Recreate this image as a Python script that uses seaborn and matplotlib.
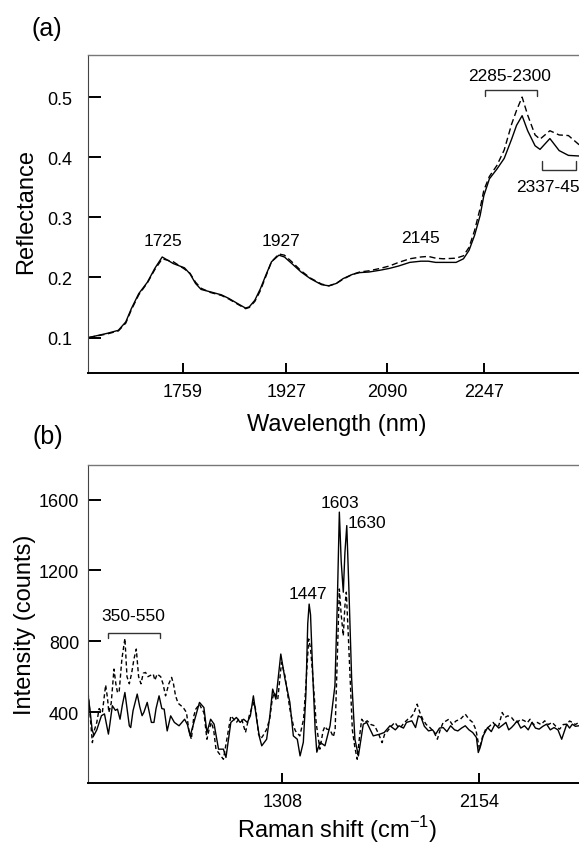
"""Two-panel spectra figure: NIR reflectance (a) and Raman intensity (b)."""

import matplotlib
matplotlib.use("Agg")
import matplotlib.pyplot as plt
import pandas as pd
import seaborn as sns

# ---------------------------------------------------------------- data (a)
nir_wavelength = [
    1607, 1637, 1655, 1667, 1676, 1688, 1702, 1714, 1726, 1744,
    1762, 1771, 1780, 1789, 1804, 1822, 1834, 1849, 1861, 1867,
    1876, 1885, 1894, 1903, 1915, 1924, 1936, 1951, 1966, 1984,
    1996, 2008, 2019, 2034, 2046, 2061, 2079, 2094, 2109, 2127,
    2145, 2157, 2169, 2181, 2202, 2214, 2223, 2232, 2241, 2247,
    2256, 2268, 2280, 2292, 2300, 2309, 2318, 2330, 2338, 2354,
    2369, 2384, 2401, 2412,
]
nir_solid = [
    0.100, 0.107, 0.112, 0.126, 0.148, 0.173, 0.192, 0.215, 0.234, 0.223,
    0.216, 0.206, 0.190, 0.180, 0.176, 0.171, 0.165, 0.156, 0.149, 0.151,
    0.162, 0.181, 0.204, 0.226, 0.237, 0.234, 0.223, 0.209, 0.198, 0.188,
    0.186, 0.190, 0.198, 0.205, 0.208, 0.209, 0.212, 0.215, 0.219, 0.225,
    0.227, 0.227, 0.225, 0.225, 0.225, 0.231, 0.245, 0.270, 0.303, 0.336,
    0.364, 0.380, 0.398, 0.430, 0.453, 0.469, 0.444, 0.419, 0.413, 0.431,
    0.411, 0.403, 0.402, 0.402,
]
nir_dashed = [
    0.100, 0.106, 0.111, 0.124, 0.146, 0.171, 0.191, 0.213, 0.231, 0.226,
    0.214, 0.207, 0.192, 0.182, 0.175, 0.170, 0.164, 0.155, 0.148, 0.150,
    0.160, 0.178, 0.202, 0.226, 0.239, 0.237, 0.226, 0.211, 0.199, 0.189,
    0.186, 0.190, 0.197, 0.205, 0.209, 0.211, 0.215, 0.219, 0.225, 0.231,
    0.234, 0.235, 0.232, 0.231, 0.232, 0.236, 0.250, 0.278, 0.315, 0.345,
    0.368, 0.386, 0.412, 0.455, 0.478, 0.500, 0.470, 0.437, 0.430, 0.444,
    0.437, 0.436, 0.421, 0.418,
]
nir_xticks = [1759, 1927, 2090, 2247]
nir_yticks = [0.1, 0.2, 0.3, 0.4, 0.5]

# ---------------------------------------------------------------- data (b)
raman_shift_solid = [
    470, 480, 490, 498, 510, 530, 543, 560, 566, 577,
    590, 599, 610, 620, 631, 642, 650, 656, 666, 684,
    695, 705, 713, 727, 745, 756, 765, 778, 790, 800,
    813, 828, 844, 864, 888, 900, 912, 928, 952, 971,
    984, 1000, 1015, 1034, 1055, 1066, 1087, 1111, 1127, 1142,
    1158, 1171, 1184, 1198, 1210, 1220, 1241, 1255, 1267, 1281,
    1302, 1320, 1341, 1356, 1373, 1385, 1399, 1410, 1418, 1424,
    1430, 1440, 1450, 1457, 1471, 1492, 1514, 1535, 1545, 1554,
    1562, 1571, 1578, 1586, 1595, 1607, 1621, 1636, 1657, 1672,
    1700, 1729, 1747, 1772, 1795, 1811, 1830, 1843, 1866, 1882,
    1894, 1906, 1920, 1938, 1955, 1969, 1985, 2001, 2017, 2033,
    2050, 2064, 2080, 2096, 2112, 2128, 2144, 2152, 2160, 2173,
    2192, 2208, 2224, 2240, 2260, 2271, 2283, 2295, 2307, 2319,
    2335, 2351, 2367, 2383, 2398, 2414, 2430, 2446, 2462, 2478,
    2495, 2511, 2525, 2533, 2545, 2557, 2570, 2585, 2600, 2620,
]
raman_solid = [
    520, 420, 300, 270, 300, 380, 390, 276, 330, 436,
    410, 417, 360, 440, 511, 400, 323, 313, 408, 502,
    430, 380, 400, 455, 342, 342, 420, 492, 420, 417,
    294, 379, 342, 323, 360, 330, 266, 342, 455, 426,
    285, 360, 332, 191, 191, 144, 342, 370, 342, 360,
    342, 379, 492, 360, 260, 210, 247, 380, 530, 473,
    728, 587, 455, 266, 247, 153, 230, 500, 900, 1010,
    950, 600, 300, 174, 230, 210, 323, 549, 1000, 1529,
    1250, 1077, 1300, 1453, 1100, 587, 247, 153, 332, 342,
    266, 276, 285, 323, 300, 323, 310, 342, 351, 313,
    379, 370, 320, 294, 300, 276, 310, 313, 290, 323,
    300, 294, 310, 323, 300, 285, 257, 172, 200, 266,
    313, 290, 332, 310, 330, 342, 300, 313, 330, 351,
    310, 323, 300, 342, 310, 304, 320, 332, 300, 313,
    300, 247, 300, 332, 310, 332, 320, 323, 330, 320,
]
raman_shift_dashed = [
    470, 480, 491, 500, 510, 520, 534, 548, 556, 562,
    572, 584, 592, 599, 606, 618, 631, 640, 650, 660,
    670, 680, 690, 700, 710, 720, 730, 737, 753, 760,
    770, 785, 795, 806, 820, 832, 840, 849, 860, 873,
    885, 896, 906, 917, 928, 936, 952, 961, 971, 984,
    993, 1003, 1013, 1023, 1040, 1055, 1070, 1087, 1100, 1111,
    1122, 1134, 1150, 1166, 1176, 1187, 1196, 1206, 1216, 1225,
    1240, 1254, 1265, 1273, 1289, 1305, 1320, 1341, 1355, 1365,
    1384, 1400, 1410, 1422, 1430, 1440, 1454, 1470, 1484, 1492,
    1500, 1514, 1528, 1536, 1545, 1554, 1562, 1571, 1578, 1584,
    1592, 1600, 1610, 1621, 1631, 1640, 1650, 1662, 1674, 1690,
    1706, 1722, 1738, 1750, 1762, 1777, 1793, 1805, 1817, 1833,
    1849, 1861, 1873, 1889, 1900, 1913, 1928, 1944, 1960, 1976,
    1988, 2001, 2013, 2025, 2040, 2057, 2075, 2096, 2112, 2128,
    2142, 2157, 2170, 2184, 2200, 2216, 2228, 2240, 2255, 2267,
    2279, 2295, 2307, 2319, 2335, 2351, 2363, 2375, 2390, 2406,
    2422, 2438, 2454, 2470, 2486, 2502, 2518, 2533, 2545, 2557,
    2570, 2585, 2600, 2620,
]
raman_dashed = [
    549, 400, 228, 300, 342, 420, 398, 553, 480, 398,
    450, 643, 560, 511, 511, 700, 816, 600, 560, 620,
    700, 756, 600, 560, 620, 624, 600, 605, 615, 580,
    615, 600, 560, 492, 560, 596, 560, 492, 450, 436,
    420, 398, 300, 247, 380, 417, 445, 420, 398, 247,
    300, 342, 300, 191, 160, 134, 250, 379, 360, 342,
    360, 360, 285, 379, 420, 455, 400, 276, 250, 266,
    300, 360, 470, 511, 473, 681, 605, 417, 330, 294,
    266, 360, 550, 813, 760, 600, 342, 191, 294, 320,
    304, 300, 260, 304, 700, 1095, 950, 831, 1000, 1077,
    850, 600, 300, 200, 134, 250, 360, 340, 351, 330,
    323, 280, 228, 280, 294, 320, 342, 320, 313, 340,
    360, 370, 389, 445, 400, 360, 330, 313, 290, 247,
    300, 342, 350, 360, 330, 351, 360, 389, 360, 342,
    300, 191, 260, 304, 320, 342, 320, 323, 398, 370,
    379, 370, 350, 342, 360, 351, 340, 360, 330, 342,
    330, 351, 330, 342, 320, 304, 330, 332, 350, 342,
    330, 342, 335, 340,
]
raman_xticks = [1308, 2154]
raman_yticks = [400, 800, 1200, 1600]

# ---------------------------------------------------------------- style
sns.set_style("ticks")
plt.rcParams["font.family"] = ["Liberation Sans", "DejaVu Sans"]
plt.rcParams["mathtext.fontset"] = "custom"
plt.rcParams["mathtext.rm"] = "Liberation Sans"
plt.rcParams["text.color"] = "black"
plt.rcParams["axes.labelcolor"] = "black"
plt.rcParams["xtick.color"] = "black"
plt.rcParams["ytick.color"] = "black"

W, H = 579, 845
fig = plt.figure(figsize=(W / 100, H / 100), dpi=100)


def px_axes(left, top, right, bottom):
    """Create axes from pixel edges (right edge may lie outside the figure)."""
    return fig.add_axes([left / W, 1 - bottom / H, (right - left) / W, (bottom - top) / H])


def style_axes(ax, ypad):
    ax.spines["right"].set_visible(False)
    ax.spines["top"].set_color("#777777")
    ax.spines["top"].set_linewidth(1.0)
    ax.spines["left"].set_color("#444444")
    ax.spines["left"].set_linewidth(0.8)
    ax.spines["bottom"].set_color("black")
    ax.spines["bottom"].set_linewidth(1.4)
    ax.tick_params(axis="y", direction="in", length=9, width=1.4,
                   labelsize=13, pad=ypad, right=False, colors="black")
    ax.tick_params(axis="x", direction="in", length=7, width=1.4,
                   labelsize=13, pad=7, top=False, colors="black")
    ax.grid(False)


def bracket(ax, x0, x1, y_bar, y_leg):
    ax.plot([x0, x0, x1, x1], [y_leg, y_bar, y_bar, y_leg],
            color="#333333", lw=1.0, solid_joinstyle="miter")


# ---------------------------------------------------------------- panel (a)
nir = pd.DataFrame({"wavelength": nir_wavelength,
                    "solid": nir_solid, "dashed": nir_dashed})

ax1 = px_axes(87.5, 56, 585.7, 374)
sns.lineplot(data=nir, x="wavelength", y="solid", ax=ax1, color="black",
             lw=1.0, estimator=None, sort=False)
sns.lineplot(data=nir, x="wavelength", y="dashed", ax=ax1, color="black",
             lw=1.0, linestyle=(0, (4.5, 2.5)), estimator=None, sort=False)
ax1.set_xlim(1605, 2412)
ax1.set_ylim(0.041, 0.570)
ax1.set_xticks(nir_xticks)
ax1.set_xticklabels([str(t) for t in nir_xticks])
ax1.set_yticks(nir_yticks)
ax1.set_yticklabels([f"{t:.1f}" for t in nir_yticks])
style_axes(ax1, ypad=11)

ax1.set_xlabel("Wavelength (nm)", fontsize=17)
ax1.set_ylabel("Reflectance", fontsize=17)
ax1.xaxis.set_label_coords(337 / W, 1 - 414 / H, transform=fig.transFigure)
ax1.yaxis.set_label_coords(37 / W, 1 - 212 / H, transform=fig.transFigure)

ann = dict(fontsize=12.5, ha="center", va="center", color="black")
ax1.text(1728, 0.262, "1725", **ann)
ax1.text(1918, 0.262, "1927", **ann)
ax1.text(2145, 0.267, "2145", **ann)
ax1.text(2288, 0.5355, "2285-2300", **ann)
bracket(ax1, 2249, 2333.5, 0.512, 0.502)
ax1.text(2300, 0.352, "2337-45", fontsize=12.5, ha="left", va="center")
bracket(ax1, 2341.6, 2395.7, 0.379, 0.393)

fig.text(47 / W, 1 - 29 / H, "(a)", fontsize=18, ha="center", va="center")

# ---------------------------------------------------------------- panel (b)
raman_s = pd.DataFrame({"shift": raman_shift_solid, "intensity": raman_solid})
raman_d = pd.DataFrame({"shift": raman_shift_dashed, "intensity": raman_dashed})

ax2 = px_axes(87.5, 466, 587, 784)
sns.lineplot(data=raman_s, x="shift", y="intensity", ax=ax2, color="black",
             lw=1.0, estimator=None, sort=False)
sns.lineplot(data=raman_d, x="shift", y="intensity", ax=ax2, color="black",
             lw=1.0, linestyle=(0, (3, 2)), estimator=None, sort=False)
ax2.set_xlim(470, 2620)
ax2.set_ylim(0, 1795)
ax2.set_xticks(raman_xticks)
ax2.set_xticklabels([str(t) for t in raman_xticks])
ax2.set_yticks(raman_yticks)
ax2.set_yticklabels([str(t) for t in raman_yticks])
style_axes(ax2, ypad=6)

ax2.set_xlabel("Raman shift (cm$^{-1}$)", fontsize=17)
ax2.set_ylabel("Intensity (counts)", fontsize=17)
ax2.xaxis.set_label_coords(337 / W, 1 - 814 / H, transform=fig.transFigure)
ax2.yaxis.set_label_coords(36 / W, 1 - 625 / H, transform=fig.transFigure)

ax2.text(668, 944, "350-550", **ann)
bracket(ax2, 558, 782, 848, 818)
ax2.text(1420, 1067, "1447", **ann)
ax2.text(1555, 1584, "1603", **ann)
ax2.text(1671, 1468, "1630", **ann)

fig.text(48 / W, 1 - 437 / H, "(b)", fontsize=18, ha="center", va="center")

fig.savefig("out.png", dpi=100)
